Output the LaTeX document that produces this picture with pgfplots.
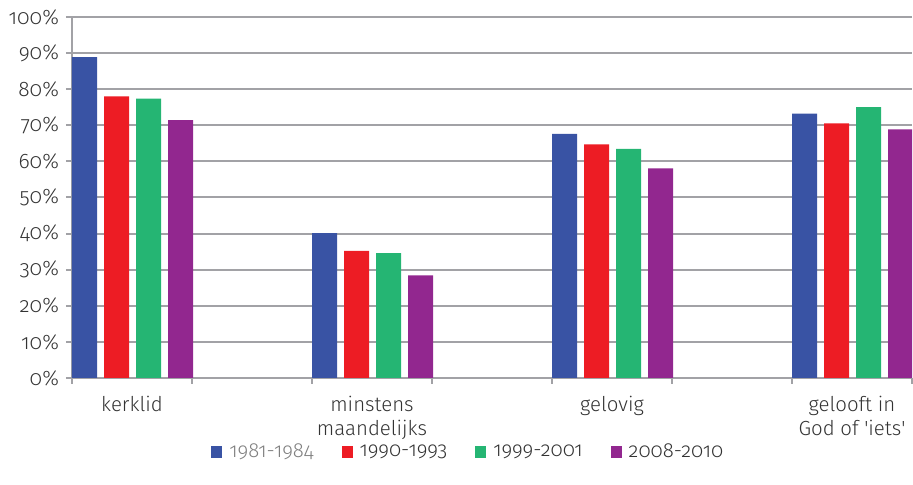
\documentclass[border=0pt]{standalone}
\usepackage{fontspec}
\setmainfont{Fira Sans}[UprightFont=* Light, Numbers=OldStyle]
\usepackage{pgfplots}
\pgfplotsset{compat=1.18}
\definecolor{cblue}{HTML}{3953A4}
\definecolor{cred}{HTML}{ED1C24}
\definecolor{cgreen}{HTML}{25B573}
\definecolor{cpurple}{HTML}{92278F}
\definecolor{gridgray}{HTML}{A2A2A6}
\definecolor{txt}{HTML}{333333}
\begin{document}
\begin{tikzpicture}
\begin{axis}[name=ax, scale only axis, width=420pt, height=180.5pt,
  xmin=0, xmax=840, ymin=0, ymax=100, enlargelimits=false,
  ybar, bar width=25, bar shift=0pt,
  axis x line*=bottom, axis y line*=left,
  axis line style={gridgray, line width=1pt, -},
  tick style={gridgray, line width=1pt}, tick align=outside, major tick length=3pt,
  ytick={0,10,...,100}, ymajorgrids, grid style={gridgray, line width=1pt},
  /pgf/number format/assume math mode=true,
  yticklabel={\pgfmathprintnumber{\tick}\%},
  yticklabel style={txt, font=\fontsize{10.5}{12}\selectfont},
  xtick={0,120,...,840}, xticklabels={},
  extra x ticks={60,300,540,780},
  extra x tick labels={kerklid,{minstens\\maandelijks},gelovig,{gelooft in\\God of \textquotesingle iets\textquotesingle}},
  extra x tick style={major tick length=0pt, grid=none, tick style={draw=none}},
  xticklabel style={txt, align=center, anchor=north, yshift=-5.5pt, font=\fontsize{10.2}{12.2}\selectfont},
  legend style={at={(0.473,-0.206)}, anchor=center, draw=none, legend columns=-1,
    font=\fontsize{10.2}{12}\selectfont, text=txt, inner sep=0pt,
    /tikz/every odd column/.append style={column sep=1.5pt},
    /tikz/every even column/.append style={column sep=12pt}},
  legend image code/.code={\fill[#1] (0pt,-3pt) rectangle (5.5pt,3pt);},
]
\addplot[fill=cblue, draw=none] coordinates {(12.5,88.9) (252.5,40.1) (492.5,67.6) (732.5,73.2)};
\addplot[fill=cred, draw=none] coordinates {(44.5,78.0) (284.5,35.2) (524.5,64.7) (764.5,70.5)};
\addplot[fill=cgreen, draw=none] coordinates {(76.5,77.4) (316.5,34.6) (556.5,63.5) (796.5,75.0)};
\addplot[fill=cpurple, draw=none] coordinates {(108.5,71.4) (348.5,28.4) (588.5,58.1) (828.5,68.9)};
\legend{\textcolor{gray}{1981-1984},1990-1993,1999-2001,2008-2010}
\end{axis}
\pgfresetboundingbox
\path ([xshift=-36pt,yshift=-53.5pt]ax.south west) rectangle ([xshift=0.5pt,yshift=8.5pt]ax.north east);
\end{tikzpicture}
\end{document}
